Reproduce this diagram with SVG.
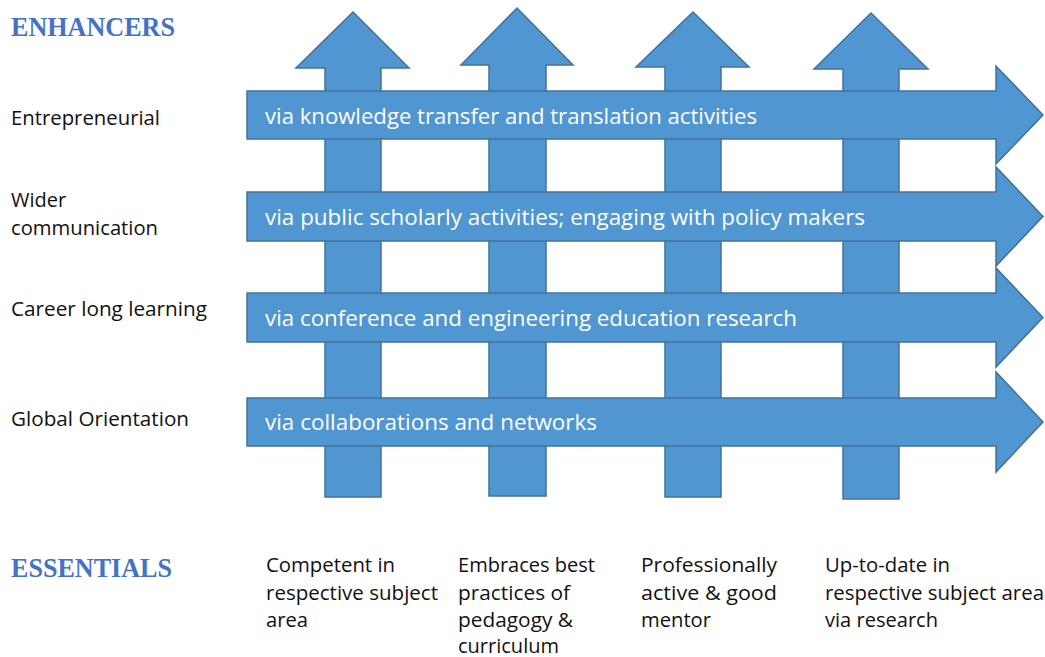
<svg xmlns="http://www.w3.org/2000/svg" width="1045" height="657" viewBox="0 0 1045 657">
  <style>
    .arrow { fill: #5096D1; stroke: #41719C; stroke-width: 1.5; stroke-linejoin: miter; }
    .head { font-family: "Liberation Serif", serif; font-weight: bold; font-size: 28px; fill: #4472C4; }
    .label { font-family: "Open Sans", "Noto Sans", sans-serif; font-size: 20px; fill: #111111; }
    .band { font-family: "Open Sans", "Noto Sans", sans-serif; font-size: 22px; fill: #FFFFFF; }
  </style>
  <rect width="1045" height="657" fill="#FFFFFF"/>

  <!-- upward arrows (essentials) -->
  <g id="up-arrows">
    <path id="up-1" class="arrow" d="M325,497 V68 H296 L353,12 L409,68 H381 V497 Z"/>
    <path id="up-2" class="arrow" d="M489,496 V65 H461 L517,8 L573,65 H546 V496 Z"/>
    <path id="up-3" class="arrow" d="M665,497 V67 H636 L693,12 L749,67 H721 V497 Z"/>
    <path id="up-4" class="arrow" d="M843,499 V69 H814 L871,13 L928,69 H899 V499 Z"/>
  </g>

  <!-- rightward arrows (enhancers) -->
  <g id="band-1">
    <path class="arrow" d="M247,91 H996 V66 L1043,115 L996,164 V139 H247 Z"/>
    <text class="band" x="265" y="124" textLength="492" lengthAdjust="spacingAndGlyphs">via knowledge transfer and translation activities</text>
  </g>
  <g id="band-2">
    <path class="arrow" d="M247,192 H996 V167 L1043,216.5 L996,266 V241 H247 Z"/>
    <text class="band" x="265" y="225" textLength="600" lengthAdjust="spacingAndGlyphs">via public scholarly activities; engaging with policy makers</text>
  </g>
  <g id="band-3">
    <path class="arrow" d="M247,293 H996 V268 L1043,317.5 L996,367 V342 H247 Z"/>
    <text class="band" x="265" y="326" textLength="532" lengthAdjust="spacingAndGlyphs">via conference and engineering education research</text>
  </g>
  <g id="band-4">
    <path class="arrow" d="M247,398 H996 V372 L1043,422 L996,472 V446 H247 Z"/>
    <text class="band" x="265" y="430" textLength="332" lengthAdjust="spacingAndGlyphs">via collaborations and networks</text>
  </g>

  <!-- section titles -->
  <g id="title-enhancers">
    <text class="head" x="11" y="36" textLength="164" lengthAdjust="spacingAndGlyphs">ENHANCERS</text>
  </g>
  <g id="title-essentials">
    <text class="head" x="11" y="577" textLength="161" lengthAdjust="spacingAndGlyphs">ESSENTIALS</text>
  </g>

  <!-- enhancer labels -->
  <g id="label-entrepreneurial">
    <text class="label" x="11" y="125" textLength="149" lengthAdjust="spacingAndGlyphs">Entrepreneurial</text>
  </g>
  <g id="label-wider">
    <text class="label" x="11" y="207">Wider</text>
    <text class="label" x="11" y="235" textLength="147" lengthAdjust="spacingAndGlyphs">communication</text>
  </g>
  <g id="label-career">
    <text class="label" x="11" y="316" textLength="196" lengthAdjust="spacingAndGlyphs">Career long learning</text>
  </g>
  <g id="label-global">
    <text class="label" x="11" y="426" textLength="178" lengthAdjust="spacingAndGlyphs">Global Orientation</text>
  </g>

  <!-- essential labels -->
  <g id="ess-1">
    <text class="label" x="266" y="572" textLength="129" lengthAdjust="spacingAndGlyphs">Competent in</text>
    <text class="label" x="266" y="600" textLength="172" lengthAdjust="spacingAndGlyphs">respective subject</text>
    <text class="label" x="266" y="627" textLength="42" lengthAdjust="spacingAndGlyphs">area</text>
  </g>
  <g id="ess-2">
    <text class="label" x="458" y="572" textLength="137" lengthAdjust="spacingAndGlyphs">Embraces best</text>
    <text class="label" x="458" y="600" textLength="112" lengthAdjust="spacingAndGlyphs">practices of</text>
    <text class="label" x="458" y="627" textLength="115" lengthAdjust="spacingAndGlyphs">pedagogy &amp;</text>
    <text class="label" x="458" y="653" textLength="101" lengthAdjust="spacingAndGlyphs">curriculum</text>
  </g>
  <g id="ess-3">
    <text class="label" x="641" y="572" textLength="136" lengthAdjust="spacingAndGlyphs">Professionally</text>
    <text class="label" x="641" y="600" textLength="136" lengthAdjust="spacingAndGlyphs">active &amp; good</text>
    <text class="label" x="641" y="627" textLength="70" lengthAdjust="spacingAndGlyphs">mentor</text>
  </g>
  <g id="ess-4">
    <text class="label" x="825" y="572" textLength="125" lengthAdjust="spacingAndGlyphs">Up-to-date in</text>
    <text class="label" x="825" y="600" textLength="219" lengthAdjust="spacingAndGlyphs">respective subject area</text>
    <text class="label" x="825" y="627" textLength="113" lengthAdjust="spacingAndGlyphs">via research</text>
  </g>
</svg>
